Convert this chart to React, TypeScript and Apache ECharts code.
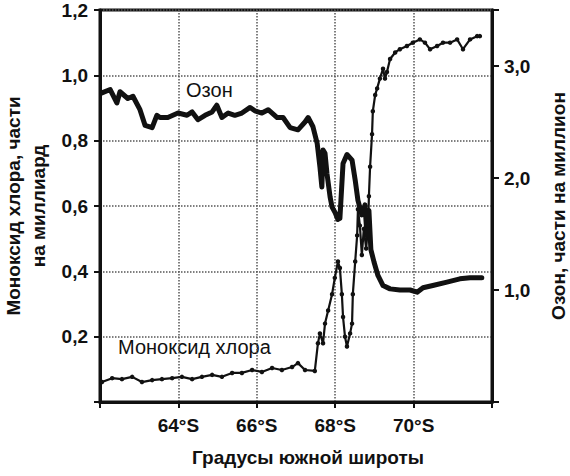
import React, { useEffect, useRef } from 'react';
import * as echarts from 'echarts';

// широта (°S) и озон, ppm (правая ось)
const ozoneLat = [
  62.05, 62.26, 62.43, 62.51, 62.71, 62.84, 63.02, 63.15, 63.33, 63.45, 63.53, 63.73, 63.99, 64.22, 64.35, 64.5,
  64.68, 64.86, 64.98, 65.11, 65.27, 65.44, 65.62, 65.83, 65.95, 66.13, 66.29, 66.52, 66.67, 66.85, 67.05, 67.23,
  67.31, 67.43, 67.54, 67.61, 67.66, 67.69, 67.74, 67.79, 67.87, 67.92, 68.0, 68.07, 68.12, 68.2, 68.3, 68.43,
  68.51, 68.58, 68.68, 68.76, 68.81, 68.86, 68.91, 68.99, 69.09, 69.22, 69.4, 69.65, 69.91, 70.09, 70.24, 70.49,
  70.85, 71.18, 71.44, 71.74,
];
const ozonePpm = [
  2.76, 2.79, 2.67, 2.77, 2.71, 2.73, 2.61, 2.47, 2.45, 2.56, 2.54, 2.54, 2.58, 2.56, 2.59, 2.52,
  2.56, 2.59, 2.65, 2.54, 2.58, 2.56, 2.58, 2.63, 2.6, 2.58, 2.61, 2.54, 2.54, 2.45, 2.43, 2.5,
  2.54, 2.46, 2.31, 2.1, 1.92, 2.25, 2.22, 2.04, 1.83, 1.74, 1.69, 1.63, 1.64, 2.13, 2.21, 2.16,
  1.98, 1.8, 1.67, 1.76, 1.49, 1.71, 1.36, 1.25, 1.13, 1.04, 1.01, 1.0, 1.0, 0.98, 1.02, 1.04,
  1.07, 1.1, 1.11, 1.11,
];

// широта (°S) и моноксид хлора, ppb (левая ось)
const cloLat = [
  62.05, 62.31, 62.56, 62.82, 63.07, 63.33, 63.58, 63.84, 64.09, 64.35, 64.6, 64.86, 65.11, 65.37, 65.62, 65.88,
  66.13, 66.39, 66.64, 66.9, 67.05, 67.23, 67.48, 67.56, 67.61, 67.69, 67.74, 67.82, 67.92, 67.99, 68.07, 68.12,
  68.17, 68.2, 68.25, 68.3, 68.38, 68.43, 68.45, 68.51, 68.56, 68.58, 68.63, 68.68, 68.73, 68.79, 68.84, 68.86,
  68.89, 68.94, 68.96, 69.02, 69.07, 69.14, 69.22, 69.27, 69.32, 69.4, 69.53, 69.65, 69.83, 69.98, 70.16, 70.29,
  70.42, 70.6, 70.75, 70.93, 71.11, 71.26, 71.44, 71.62, 71.69,
];
const cloPpb = [
  0.061, 0.073, 0.07, 0.077, 0.061, 0.067, 0.07, 0.073, 0.077, 0.07, 0.077, 0.083, 0.077, 0.089, 0.089, 0.098,
  0.092, 0.104, 0.098, 0.107, 0.119, 0.098, 0.095, 0.18, 0.21, 0.18, 0.24, 0.28, 0.33, 0.38, 0.43, 0.41,
  0.33, 0.26, 0.2, 0.17, 0.21, 0.24, 0.33, 0.43, 0.51, 0.59, 0.54, 0.45, 0.53, 0.47, 0.54, 0.63,
  0.72, 0.82, 0.89, 0.94, 0.96, 0.99, 1.02, 0.99, 1.01, 1.05, 1.07, 1.08, 1.09, 1.1, 1.11, 1.1,
  1.08, 1.09, 1.1, 1.1, 1.11, 1.08, 1.11, 1.12, 1.12,
];

const latTicks = [64, 66, 68, 70];

const FONT = '"Liberation Sans", Arial, sans-serif';

const App: React.FC = () => {
  const chartRef = useRef<HTMLDivElement>(null);

  useEffect(() => {
    if (!chartRef.current) return;
    const chart = echarts.init(chartRef.current, null, { renderer: 'svg' });

    const comma = (v: number) => v.toFixed(1).replace('.', ',');

    const option = {
      animation: false,
      backgroundColor: '#fff',
      textStyle: { fontFamily: FONT },
      grid: {
        left: 100,
        right: 78,
        top: 10,
        bottom: 74,
        containLabel: false,
        outerBoundsMode: 'none',
        show: true,
        borderColor: '#111',
        borderWidth: 3,
      },
      xAxis: {
        type: 'value',
        min: 62,
        max: 72,
        interval: 2,
        name: 'Градусы южной широты',
        nameLocation: 'middle',
        nameGap: 46,
        nameTextStyle: { fontSize: 19, fontWeight: 'bold', color: '#111', fontFamily: FONT, padding: [0, 0, 0, 24] },
        axisLine: { lineStyle: { color: '#111', width: 3 } },
        axisTick: { length: 6, lineStyle: { color: '#111', width: 2 } },
        axisLabel: {
          margin: 14,
          fontSize: 19,
          fontWeight: 'bold',
          color: '#111',
          fontFamily: FONT,
          formatter: (v: number) => (latTicks.includes(v) ? `${v}°S` : ''),
        },
        splitLine: { show: true, lineStyle: { color: '#555', type: 'dotted', width: 1.5 } },
      },
      yAxis: [
        {
          type: 'value',
          min: 0,
          max: 1.2,
          interval: 0.2,
          name: 'Моноксид хлора, части\nна миллиард',
          nameLocation: 'middle',
          nameRotate: 90,
          nameGap: 47,
          nameTextStyle: { fontSize: 19, fontWeight: 'bold', color: '#111', lineHeight: 25, fontFamily: FONT },
          axisLine: { show: true, lineStyle: { color: '#111', width: 3 } },
          axisTick: { show: true, length: 6, lineStyle: { color: '#111', width: 2 } },
          axisLabel: {
            margin: 12,
            fontSize: 19,
            fontWeight: 'bold',
            color: '#111',
            fontFamily: FONT,
            formatter: (v: number) => (v === 0 ? '' : comma(v)),
          },
          splitLine: { show: true, lineStyle: { color: '#555', type: 'dotted', width: 1.5 } },
        },
        {
          type: 'value',
          position: 'right',
          min: 0,
          max: 3.5,
          interval: 1,
          name: 'Озон, части на миллион',
          nameLocation: 'middle',
          nameRotate: 90,
          nameGap: 57,
          nameTextStyle: { fontSize: 19, fontWeight: 'bold', color: '#111', fontFamily: FONT },
          axisLine: { show: true, lineStyle: { color: '#111', width: 3 } },
          axisTick: { show: true, length: 7, lineStyle: { color: '#111', width: 2 } },
          axisLabel: {
            margin: 12,
            fontSize: 19,
            fontWeight: 'bold',
            color: '#111',
            fontFamily: FONT,
            formatter: (v: number) => (v >= 1 && v <= 3 && Number.isInteger(v) ? comma(v) : ''),
          },
          splitLine: { show: false },
        },
      ],
      graphic: [
        { type: 'text', left: 186, top: 80, style: { text: 'Озон', fontSize: 20, fill: '#111', fontFamily: FONT } },
        {
          type: 'text',
          left: 118,
          top: 337,
          style: { text: 'Моноксид хлора', fontSize: 20, fill: '#111', fontFamily: FONT },
        },
      ],
      series: [
        {
          name: 'Моноксид хлора',
          type: 'line',
          yAxisIndex: 0,
          data: cloLat.map((x, i) => [x, cloPpb[i]]),
          symbol: 'circle',
          symbolSize: 4.5,
          showSymbol: true,
          itemStyle: { color: '#111' },
          lineStyle: { color: '#111', width: 2.2 },
        },
        {
          name: 'Озон',
          type: 'line',
          yAxisIndex: 1,
          data: ozoneLat.map((x, i) => [x, ozonePpm[i]]),
          showSymbol: false,
          lineStyle: { color: '#111', width: 5, join: 'round', cap: 'round' },
        },
      ],
    };

    chart.setOption(option);
    return () => {
      chart.dispose();
    };
  }, []);

  return <div ref={chartRef} style={{ position: 'fixed', left: 0, top: 0, width: 570, height: 476 }} />;
};

export default App;
